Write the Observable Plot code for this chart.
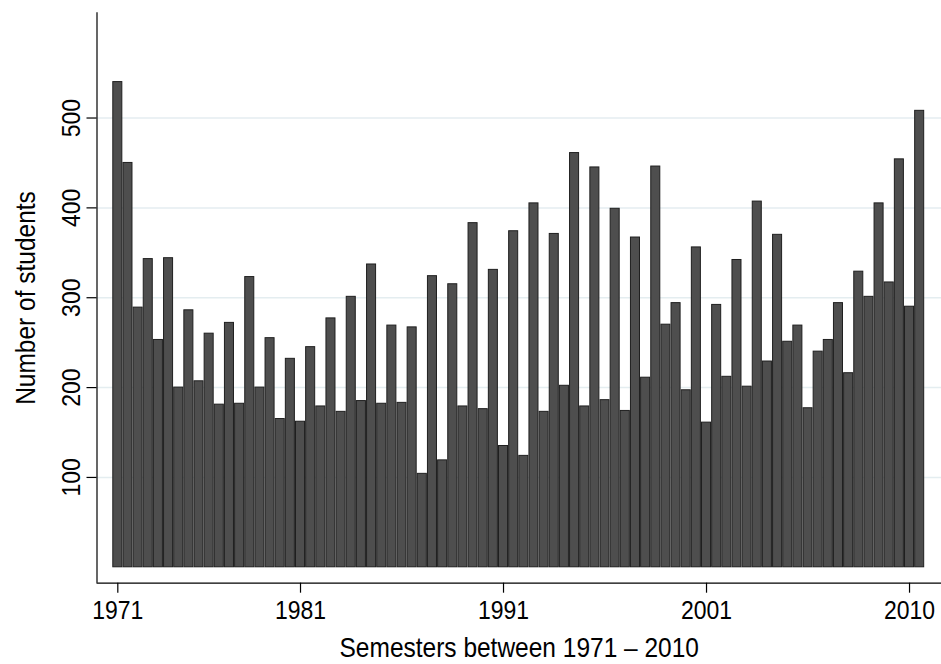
<!DOCTYPE html>
<html>
<head>
<meta charset="utf-8">
<script src="https://cdn.jsdelivr.net/npm/d3@7"></script>
<script src="https://cdn.jsdelivr.net/npm/@observablehq/plot@0.6"></script>
<style>
  html, body { margin: 0; padding: 0; background: #ffffff; }
  #chart svg { display: block; }
</style>
</head>
<body>
<div id="chart"></div>
<script>
// Number of students per semester, 1971 – 2010 (80 semesters)
const students = [540,450,289,343,253,344,200,286,207,260,
                  181,272,182,323,200,255,165,232,162,245,
                  179,277,173,301,185,337,182,269,183,267,
                  104,324,119,315,179,383,176,331,135,374,
                  124,405,173,371,202,461,179,445,186,399,
                  174,367,211,446,270,294,197,356,161,292,
                  212,342,201,407,229,370,251,269,177,240,
                  253,294,216,329,301,405,317,454,290,508];
// semester positions that carry a tick label
const tickSemester = [1, 19, 39, 59, 79];
const tickLabels = ["1971", "1981", "1991", "2001", "2010"];
const yTicks = [100, 200, 300, 400, 500];
const xTitle = "Semesters between 1971 \u2013 2010";
const yTitle = "Number of students";

const rows = students.map((v, i) => ({semester: i + 1, students: v}));

const xDomain = [-1.05, 82.15];
const yDomain = [-17.7, 617.1];
const font = "'Liberation Sans', Arial, Helvetica, sans-serif";
const fsTick = 23;
const fsTitle = 24.5;
const glyphStretch = 1.15; // the original font is drawn taller than it is wide

const chart = Plot.plot({
  width: 941,
  height: 664,
  marginLeft: 96.5,
  marginRight: 0,
  marginTop: 12.3,
  marginBottom: 81.3,
  x: {type: "linear", domain: xDomain, axis: null},
  y: {type: "linear", domain: yDomain, axis: null},
  style: {fontFamily: font, background: "#ffffff", color: "#000"},
  marks: [
    Plot.ruleY(yTicks, {stroke: "#e4edf0", strokeWidth: 1.5}),
    Plot.rectY(rows, {
      x1: d => d.semester - 0.445,
      x2: d => d.semester + 0.445,
      y1: 0,
      y2: "students",
      fill: "#4e4e4e",
      stroke: "#1f1f1f",
      strokeWidth: 1
    }),
    // axis lines
    Plot.ruleX([xDomain[0]], {stroke: "#000", strokeWidth: 1.2}),
    Plot.ruleY([yDomain[0]], {stroke: "#000", strokeWidth: 1.2}),
    // y ticks
    Plot.ruleY(yTicks, {y: d => d, x1: () => xDomain[0], x2: () => xDomain[0], insetLeft: -10, stroke: "#000", strokeWidth: 1.2}),
    // x ticks
    Plot.ruleX(tickSemester, {x: d => d, y1: () => yDomain[0], y2: () => yDomain[0], insetBottom: -10, stroke: "#000", strokeWidth: 1.2}),
    // y tick labels
    Plot.text(yTicks, {
      x: () => xDomain[0], y: d => d, text: d => String(d),
      rotate: -90, dx: -25.5, lineAnchor: "middle", textAnchor: "middle",
      fontSize: fsTick, fill: "#000"
    }),
    // x tick labels
    Plot.text(tickSemester, {
      x: d => d, y: () => yDomain[0], text: (d, i) => tickLabels[i],
      dy: 27.5, lineAnchor: "middle", textAnchor: "middle",
      fontSize: fsTick, fill: "#000"
    }),
    // axis titles
    Plot.text([xTitle], {frameAnchor: "bottom", dy: 64.5, lineAnchor: "middle", textAnchor: "middle", fontSize: fsTitle, fill: "#000"}),
    Plot.text([yTitle], {frameAnchor: "left", rotate: -90, dx: -71, lineAnchor: "middle", textAnchor: "middle", fontSize: fsTitle, fill: "#000"})
  ]
});

// make glyphs a little taller, around each text's own anchor
d3.select(chart).selectAll("text").each(function() {
  const t = this.getAttribute("transform");
  if (t && t.includes("translate")) {
    this.setAttribute("transform", `${t} scale(1,${glyphStretch})`);
  }
});

document.getElementById("chart").appendChild(chart);
</script>
</body>
</html>
